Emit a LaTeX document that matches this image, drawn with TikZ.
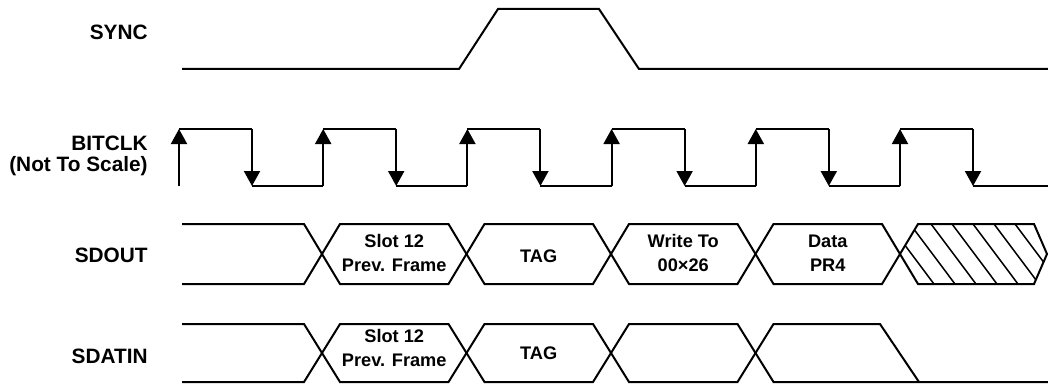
\documentclass[tikz,border=0pt]{standalone}
\usepackage{fontspec}
\setmainfont{Liberation Sans}
\usetikzlibrary{arrows.meta}
\colorlet{wave}{black}

\begin{document}
\begin{tikzpicture}[x=0.5pt,y=-0.5pt,
    sig/.style={wave, line width=1pt, line join=miter},
    clk/.style={sig, -{Triangle[width=8pt,length=7.5pt]}},
    lbl/.style={anchor=base east, inner sep=0pt, font=\fontsize{10.4}{12.5}\selectfont\bfseries},
    slot/.style={align=center, inner sep=0pt, font=\fontsize{9.1}{11.75}\selectfont\bfseries}]
    \useasboundingbox (0,0) rectangle (1048,385);

    % signal names
    \node[lbl] (sync) at (148,40) {SYNC};
    \node[lbl] (bitclk) at (148,150) {BITCLK};
    \node[lbl] (nts) at (148,171) {(Not To Scale)};
    \node[lbl] (sdout) at (148,262) {SDOUT};
    \node[lbl] (sdatin) at (148,363) {SDATIN};

    % SYNC
    \draw[sig] (182,69) -- (459,69) -- (498,9) -- (599,9) -- (639,69) -- (1048,69);

    % BITCLK
    \foreach \i in {0,...,5}{
        \pgfmathsetmacro\r{179+144.2*\i}
        \draw[clk] (\r,186) -- (\r,129);
        \draw[sig] (\r,129) -- (\r+73,129);
        \draw[clk] (\r+73,129) -- (\r+73,186);
    }
    \foreach \i in {0,...,4}{
        \pgfmathsetmacro\r{179+144.2*\i}
        \draw[sig] (\r+73,186) -- (\r+144.2,186);
    }
    \draw[sig] (973,186) -- (1048,186);

    % SDOUT
    \draw[sig] (182,224) -- (304,224) -- (322,254) -- (304,284) -- (182,284);
    \foreach \c/\ty/\txt [count=\i] in {322/253/{Slot 12\\Prev. Frame},466.5/256/{TAG},611/253/{Write To\\00×26},755.5/253/{Data\\PR4}}{
        \draw[sig] (\c,254) -- (\c+18,224) -- (\c+126.5,224) -- (\c+144.5,254)
            -- (\c+126.5,284) -- (\c+18,284) -- cycle;
        \node[slot] (out\i) at (\c+72.25,\ty) {\txt};
    }
    \begin{scope}
        \clip (900,254) -- (918,224) -- (1034,224) -- (1047,254) -- (1034,284) -- (918,284) -- cycle;
        \foreach \t in {847,868,...,1036}{
            \draw[wave, line width=0.75pt] (\t-5,217.3) -- (\t+50,290.7);
        }
    \end{scope}
    \draw[sig] (900,254) -- (918,224) -- (1034,224) -- (1047,254) -- (1034,284) -- (918,284) -- cycle;

    % SDATIN
    \draw[sig] (182,324) -- (304,324) -- (322,353) -- (304,382) -- (182,382);
    \foreach \c/\ty/\txt [count=\i] in {322/348/{Slot 12\\Prev. Frame},466.5/353/{TAG},611/353/{}}{
        \draw[sig] (\c,353) -- (\c+18,324) -- (\c+126.5,324) -- (\c+144.5,353)
            -- (\c+126.5,382) -- (\c+18,382) -- cycle;
        \node[slot] (in\i) at (\c+72.25,\ty) {\txt};
    }
    \draw[sig] (755.5,353) -- (773.5,324) -- (880,324) -- (919,382);
    \draw[sig] (755.5,353) -- (773.5,382) -- (1048,382);
\end{tikzpicture}
\end{document}
